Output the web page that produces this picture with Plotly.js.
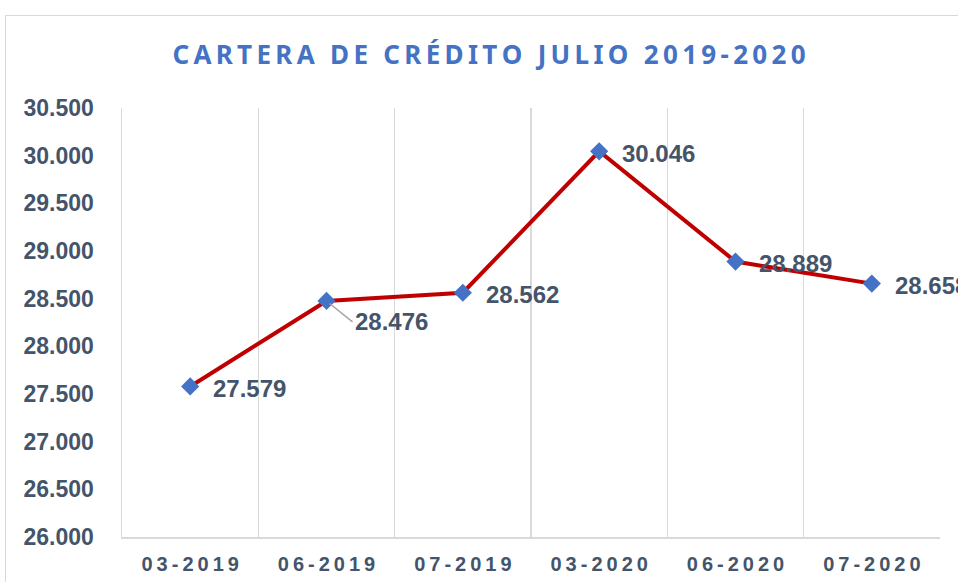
<!DOCTYPE html>
<html>
<head>
<meta charset="utf-8">
<script src="https://cdn.plot.ly/plotly-3.0.1.min.js"></script>
<style>
  html, body { margin: 0; padding: 0; background: #ffffff; overflow: hidden; }
  #wrap { position: relative; width: 958px; height: 582px; }
  #chart { position: absolute; left: 0; top: 0; width: 958px; height: 582px; }
  #frame { position: absolute; left: 5px; top: 15px; width: 980px; height: 600px;
           border: 1px solid #d9d9d9; pointer-events: none; box-sizing: border-box; }
</style>
</head>
<body>
<div id="wrap">
  <div id="chart"></div>
  <div id="frame"></div>
</div>
<script>
// ---- data ----
const categories = ["03-2019", "06-2019", "07-2019", "03-2020", "06-2020", "07-2020"];
const values = [27579, 28476, 28562, 30046, 28889, 28658];
const yTickVals = [26000, 26500, 27000, 27500, 28000, 28500, 29000, 29500, 30000, 30500];
const titleText = "CARTERA DE CRÉDITO JULIO 2019-2020";

// ---- helpers ----
function fmt(v) { return String(v).replace(/\B(?=(\d{3})+(?!\d))/g, "."); }
function spaced(s, sep) { return s.split("").join(sep); }

const textColor = "#44546A";
const labelFont = { family: "Liberation Sans, Arial, sans-serif", size: 24, color: textColor, weight: 700 };

const trace = {
  type: "scatter",
  mode: "lines+markers",
  x: categories,
  y: values,
  line: { color: "#C00000", width: 4 },
  marker: { symbol: "diamond", size: 14, color: "#4472C4" },
  cliponaxis: false,
  hoverinfo: "skip"
};

const annotations = categories.map((c, i) => {
  const base = {
    x: c, y: values[i], xref: "x", yref: "y",
    text: fmt(values[i]), font: labelFont,
    xanchor: "left", yanchor: "middle"
  };
  if (i === 1) {
    return Object.assign(base, {
      showarrow: true, ax: 26, ay: 21, arrowhead: 0, arrowwidth: 1.5,
      arrowcolor: "#A5A5A5", standoff: 4
    });
  }
  return Object.assign(base, { showarrow: false, xshift: 21, yshift: -2 });
});

const layout = {
  width: 958, height: 582,
  paper_bgcolor: "#ffffff", plot_bgcolor: "#ffffff",
  margin: { l: 122, r: 18, t: 108, b: 45 },
  separators: ",.",
  showlegend: false,
  title: {
    text: spaced(titleText, "\u2009"),
    font: { family: "Noto Sans, Open Sans, sans-serif", size: 26, color: "#4472C4", weight: 700 },
    x: 489 / 958, xref: "container", xanchor: "center",
    y: 1 - 55 / 582, yref: "container", yanchor: "middle"
  },
  xaxis: {
    type: "category",
    range: [-0.5, categories.length - 0.5],
    autorange: false,
    tickson: "boundaries",
    showgrid: true, gridcolor: "#d9d9d9", gridwidth: 1.5,
    showline: true, linecolor: "#d9d9d9", linewidth: 1.5,
    ticks: "",
    tickvals: categories,
    ticktext: categories.map(c => spaced(c, "\u2009")),
    tickfont: { family: "Liberation Sans, Arial, sans-serif", size: 20, color: textColor, weight: 700 },
    ticklabelstandoff: 8,
    zeroline: false, fixedrange: true
  },
  yaxis: {
    range: [26000, 30500],
    tickvals: yTickVals,
    tickformat: ",.0f",
    showgrid: false, zeroline: false,
    showline: true, linecolor: "#d9d9d9", linewidth: 1.5,
    ticks: "",
    tickfont: { family: "Liberation Sans, Arial, sans-serif", size: 23, color: textColor, weight: 700 },
    ticklabelstandoff: 22,
    fixedrange: true
  },
  annotations: annotations
};

Plotly.newPlot("chart", [trace], layout, { displayModeBar: false, staticPlot: true });
</script>
</body>
</html>
